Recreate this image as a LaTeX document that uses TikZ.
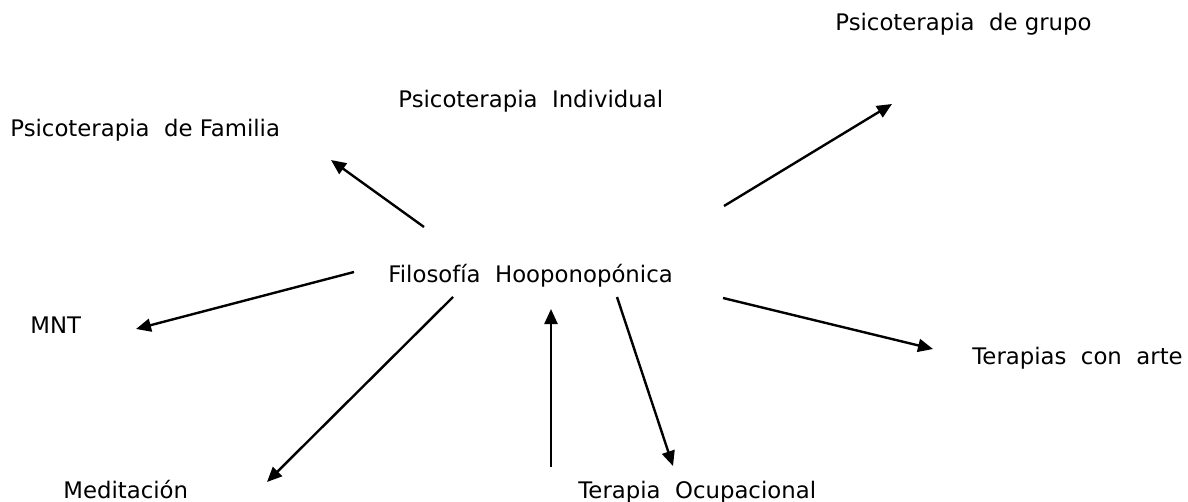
\documentclass[tikz,border=0pt]{standalone}
\usepackage{fontspec}
\setmainfont{DejaVu Sans}
\usetikzlibrary{arrows.meta}

\begin{document}
\begin{tikzpicture}[x=0.5pt,y=-0.5pt,
  lbl/.style={anchor=base west, inner sep=0pt, font=\fontsize{11.4}{14}\selectfont},
  flecha/.style={line width=1.2pt, -{Triangle[length=7.5pt,width=6.5pt]}}]
\useasboundingbox (0,0) rectangle (1188,502);

%labels:
 \node[lbl] (grupo) at (835,31) {Psicoterapia\ \ de grupo};
 \node[lbl] (familia) at (10,137) {Psicoterapia\ \ de Familia};
 \node[lbl] (indiv) at (398,108) {Psicoterapia\ \ Individual};
 \node[lbl] (filo) at (388,283) {Filosofía\ \ Hooponopónica};
 \node[lbl] (mnt) at (30,333) {MNT};
 \node[lbl] (arte) at (972,364) {Terapias\ \ con\ \ arte};
 \node[lbl] (medit) at (63,498) {Meditación};
 \node[lbl] (ocup) at (578,498) {Terapia\ \ Ocupacional};

%arrow ends
 \coordinate (famS) at (424,227);
 \coordinate (famE) at (331,160);
 \coordinate (grpS) at (724,206);
 \coordinate (grpE) at (892,104);
 \coordinate (mntS) at (354,272);
 \coordinate (mntE) at (136,329);
 \coordinate (medS) at (453,297);
 \coordinate (medE) at (267,482);
 \coordinate (upS) at (551,467);
 \coordinate (upE) at (551,309);
 \coordinate (ocS) at (617,297);
 \coordinate (ocE) at (673,466);
 \coordinate (arS) at (723,298);
 \coordinate (arE) at (933,349);

%arrows
 \draw[flecha] (famS) -- (famE);
 \draw[flecha] (grpS) -- (grpE);
 \draw[flecha] (mntS) -- (mntE);
 \draw[flecha] (medS) -- (medE);
 \draw[flecha] (upS) -- (upE);
 \draw[flecha] (ocS) -- (ocE);
 \draw[flecha] (arS) -- (arE);
\end{tikzpicture}
\end{document}
